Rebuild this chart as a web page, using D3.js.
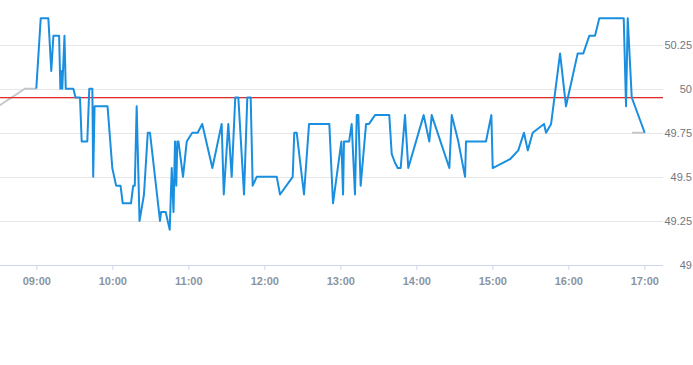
<!DOCTYPE html>
<html>
<head>
<meta charset="utf-8">
<script src="https://cdn.jsdelivr.net/npm/d3@7"></script>
<style>
  html, body { margin: 0; padding: 0; background: #fff; }
  svg { display: block; }
</style>
</head>
<body>
<svg id="chart" width="693" height="365"></svg>
<script>
// ---- data ----
const priceTimes = ["09:00:00","09:03:30","09:09:30","09:11:50","09:13:30","09:18:00","09:19:00","09:19:45","09:20:30","09:22:15","09:23:15","09:29:15","09:31:00","09:34:30","09:35:50","09:40:15","09:41:50","09:44:15","09:44:55","09:46:00","09:56:15","10:00:00","10:03:00","10:06:30","10:08:15","10:14:45","10:16:30","10:17:45","10:19:15","10:21:30","10:25:00","10:28:00","10:29:45","10:37:40","10:38:30","10:42:10","10:45:20","10:46:55","10:48:20","10:49:30","10:50:30","10:51:20","10:52:15","10:55:50","10:58:45","11:01:20","11:03:10","11:07:25","11:11:00","11:19:00","11:26:20","11:28:00","11:31:35","11:34:15","11:37:05","11:39:30","11:44:00","11:46:35","11:49:15","11:50:50","11:54:00","12:09:50","12:12:25","12:22:25","12:23:40","12:25:35","12:31:20","12:35:20","12:51:20","12:54:15","13:00:50","13:02:10","13:02:55","13:06:55","13:09:00","13:11:35","13:13:00","13:14:15","13:16:05","13:20:20","13:22:40","13:27:25","13:38:40","13:40:35","13:43:10","13:45:20","13:47:40","13:51:05","13:53:40","14:05:50","14:10:15","14:12:10","14:26:05","14:28:00","14:33:10","14:38:30","14:39:15","14:55:00","14:59:15","15:00:20","15:14:00","15:20:30","15:25:00","15:28:00","15:31:55","15:40:50","15:42:25","15:46:25","15:53:30","15:58:10","16:07:25","16:11:50","16:16:35","16:21:05","16:24:30","16:43:45","16:45:35","16:46:55","16:50:05","17:00:20"];
const priceValues = [50.0,50.4,50.4,50.1,50.3,50.3,50.0,50.1,50.0,50.3,50.0,50.0,49.95,49.95,49.7,49.7,50.0,50.0,49.5,49.9,49.9,49.55,49.45,49.45,49.35,49.35,49.45,49.45,49.9,49.25,49.4,49.75,49.75,49.25,49.3,49.3,49.2,49.55,49.3,49.7,49.45,49.7,49.7,49.5,49.7,49.73,49.75,49.75,49.8,49.55,49.8,49.4,49.8,49.5,49.95,49.95,49.4,49.95,49.95,49.45,49.5,49.5,49.4,49.5,49.75,49.75,49.4,49.8,49.8,49.35,49.7,49.4,49.7,49.7,49.8,49.4,49.85,49.85,49.45,49.8,49.8,49.85,49.85,49.63,49.58,49.55,49.55,49.85,49.55,49.85,49.7,49.85,49.55,49.85,49.7,49.5,49.7,49.7,49.85,49.55,49.6,49.65,49.75,49.65,49.75,49.8,49.75,49.8,50.2,49.9,50.2,50.2,50.3,50.3,50.4,50.4,49.9,50.4,49.95,49.75];
const preTimes = ["08:30:00","08:51:00","09:00:00"];
const preValues = [49.9, 50.0, 50.0];
const postTimes = ["16:50:20","17:00:20"];
const postValues = [49.75, 49.75];
const refValue = 49.95;
const yTicks = [49, 49.25, 49.5, 49.75, 50, 50.25];
const xTickLabels = ["09:00","10:00","11:00","12:00","13:00","14:00","15:00","16:00","17:00"];
const domainStart = "08:30:00", domainEnd = "17:15:00";

// ---- scales ----
const parse = d3.timeParse("%H:%M:%S");
const svg = d3.select("#chart");
const plotLeft = 0, plotRight = 663, plotTop = 0.5, plotBottom = 265;
const x = d3.scaleTime().domain([parse(domainStart), parse(domainEnd)]).range([-1.7, 663.3]);
const y = d3.scaleLinear().domain([49, 50.5]).range([plotBottom, plotTop]);

// grid lines
svg.append("g").selectAll("line").data(yTicks).join("line")
  .attr("x1", plotLeft).attr("x2", plotRight)
  .attr("y1", d => Math.round(y(d)) + 0.5).attr("y2", d => Math.round(y(d)) + 0.5)
  .attr("stroke", "#e6e6e6").attr("stroke-width", 1);

// y labels on right
const fmtY = d3.format("~g");
svg.append("g").selectAll("text").data(yTicks).join("text")
  .attr("x", 692).attr("y", d => y(d) + 4)
  .attr("text-anchor", "end")
  .attr("font-family", "'Liberation Sans', Arial, sans-serif")
  .attr("font-size", 11).attr("fill", "#6f7682")
  .text(d => fmtY(d));

// x axis
const xTickDates = xTickLabels.map(t => parse(t + ":00"));
const xAxis = d3.axisBottom(x).tickValues(xTickDates).tickFormat(d3.timeFormat("%H:%M")).tickSize(5).tickSizeOuter(0);
const gx = svg.append("g").attr("transform", `translate(0,${plotBottom})`).call(xAxis);
gx.select(".domain").attr("d", `M${plotLeft},0.5H${plotRight}`).attr("stroke", "#ccd6eb");
gx.selectAll(".tick line").attr("stroke", "#ccd6eb");
gx.selectAll(".tick text")
  .attr("font-family", "'Liberation Sans', Arial, sans-serif")
  .attr("font-size", 11).attr("font-weight", "bold").attr("fill", "#8a94a2").attr("dy", "1.05em");

// lines
const line = d3.line().x(d => x(d.t)).y(d => y(d.v));
const mk = (ts, vs) => ts.map((t, i) => ({ t: parse(t), v: vs[i] }));

svg.append("path").datum(mk(preTimes, preValues)).attr("d", line)
  .attr("fill", "none").attr("stroke", "#c4c8cc").attr("stroke-width", 2);
svg.append("path").datum(mk(postTimes, postValues)).attr("d", line)
  .attr("fill", "none").attr("stroke", "#c4c8cc").attr("stroke-width", 2);

// reference line (drawn as a 1px red band)
svg.append("rect")
  .attr("x", plotLeft).attr("width", plotRight - plotLeft)
  .attr("y", Math.round(y(refValue))).attr("height", 1.3)
  .style("fill", "#e02b2b");

svg.append("path").datum(mk(priceTimes, priceValues)).attr("d", line)
  .attr("fill", "none").attr("stroke", "#1a8fdf").attr("stroke-width", 2)
  .attr("stroke-linejoin", "round");
</script>
</body>
</html>
